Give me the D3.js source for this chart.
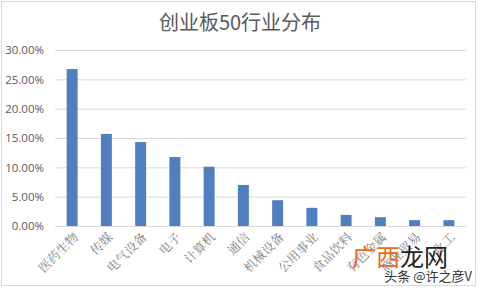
<!DOCTYPE html>
<html>
<head>
<meta charset="utf-8">
<script src="https://cdn.jsdelivr.net/npm/d3@7"></script>
<style>
  body { margin: 0; background: #fff; }
  svg { display: block; font-family: "Noto Sans CJK SC", "DejaVu Sans", sans-serif; }
</style>
</head>
<body>
<script>
var categories = ["医药生物", "传媒", "电气设备", "电子", "计算机", "通信", "机械设备", "公用事业", "食品饮料", "有色金属", "商业贸易", "化工"];
var shares = [0.2675, 0.157, 0.143, 0.1175, 0.101, 0.070, 0.044, 0.031, 0.019, 0.015, 0.010, 0.010];
var yTicks = [0, 0.05, 0.10, 0.15, 0.20, 0.25, 0.30];

var WIDTH = 480, HEIGHT = 288;
var LEFT = 55, RIGHT = 466, TOP = 50, BOTTOM = 226;

var svg = d3.select("body").append("svg")
  .attr("width", WIDTH)
  .attr("height", HEIGHT);

// outer frame
svg.append("rect")
  .attr("x", 1.5).attr("y", 1.5)
  .attr("width", 474).attr("height", 284)
  .attr("fill", "#fff")
  .attr("stroke", "#d9d9d9");

var x = d3.scaleBand()
  .domain(categories)
  .range([LEFT, RIGHT])
  .paddingInner(0.68)
  .paddingOuter(0.34);

var y = d3.scaleLinear()
  .domain([0, 0.30])
  .range([BOTTOM, TOP]);

svg.append("text")
  .attr("x", 240).attr("y", 30)
  .attr("text-anchor", "middle")
  .attr("font-size", 20)
  .attr("fill", "#595959")
  .text("创业板50行业分布");

var yAxis = d3.axisLeft(y)
  .tickValues(yTicks)
  .tickSize(-(RIGHT - LEFT))
  .tickPadding(11)
  .tickFormat(d3.format(".2%"));

var gy = svg.append("g")
  .attr("transform", "translate(" + LEFT + ",0)")
  .call(yAxis);
gy.select(".domain").remove();
gy.selectAll(".tick line").attr("stroke", "#d9d9d9");
gy.selectAll(".tick text")
  .attr("font-size", 11.5)
  .attr("fill", "#595959")
  .attr("font-family", "'Open Sans', 'DejaVu Sans', sans-serif");

svg.append("g").selectAll("rect")
  .data(shares)
  .enter()
  .append("rect")
  .attr("x", function (d, i) { return x(categories[i]); })
  .attr("y", function (d) { return y(d); })
  .attr("width", x.bandwidth())
  .attr("height", function (d) { return y(0) - y(d); })
  .attr("fill", "#4f7fbf");

var xAxis = d3.axisBottom(x).tickSize(0).tickPadding(0);
var gx = svg.append("g")
  .attr("transform", "translate(0," + BOTTOM + ")")
  .call(xAxis);
gx.select(".domain").remove();
gx.selectAll(".tick text")
  .attr("font-size", 12.5)
  .attr("fill", "#7f7f7f")
  .attr("font-family", "'Noto Serif CJK SC', 'Noto Sans CJK SC', serif")
  .attr("text-anchor", "end")
  .attr("dy", 0)
  .attr("y", 0)
  .attr("transform", "translate(7,12) rotate(-45)");

// watermark
var wm = svg.append("text")
  .attr("x", 352).attr("y", 266)
  .attr("font-size", 24)
  .attr("font-family", "'Noto Sans CJK SC', sans-serif");
wm.append("tspan").attr("fill", "#e86a1c").text("广西");
wm.append("tspan").attr("fill", "#222").text("龙网");

svg.append("text")
  .attr("x", 472).attr("y", 281)
  .attr("text-anchor", "end")
  .attr("font-size", 13)
  .attr("fill", "#333")
  .text("头条 @许之彦V");
</script>
</body>
</html>
